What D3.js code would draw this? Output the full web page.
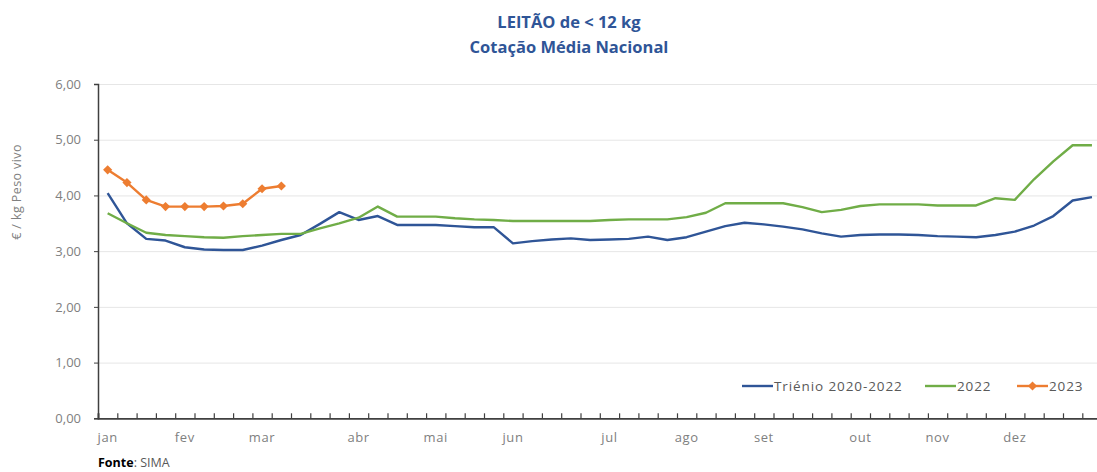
<!DOCTYPE html>
<html>
<head>
<meta charset="utf-8">
<script src="https://cdn.jsdelivr.net/npm/d3@7"></script>
<style>
  body { margin: 0; background: #fff; }
  svg { display: block; font-family: "Open Sans", sans-serif; }
</style>
</head>
<body>
<svg width="1097" height="472"></svg>
<script>
// semanas 1..52
var weeks = d3.range(1, 53);

var trienio = [4.04, 3.50, 3.22, 3.19, 3.07, 3.03, 3.02, 3.02, 3.10, 3.20,
  3.29, 3.49, 3.70, 3.56, 3.63, 3.47, 3.47, 3.47, 3.45, 3.43,
  3.43, 3.14, 3.18, 3.21, 3.23, 3.20, 3.21, 3.22, 3.26, 3.20,
  3.25, 3.35, 3.45, 3.51, 3.48, 3.44, 3.39, 3.32, 3.26, 3.29,
  3.30, 3.30, 3.29, 3.27, 3.26, 3.25, 3.29, 3.35, 3.46, 3.63,
  3.91, 3.97];

var ano2022 = [3.68, 3.50, 3.33, 3.29, 3.27, 3.25, 3.24, 3.27, 3.29, 3.31,
  3.31, 3.41, 3.50, 3.60, 3.80, 3.62, 3.62, 3.62, 3.59, 3.57,
  3.56, 3.54, 3.54, 3.54, 3.54, 3.54, 3.56, 3.57, 3.57, 3.57,
  3.61, 3.69, 3.86, 3.86, 3.86, 3.86, 3.79, 3.70, 3.74, 3.81,
  3.84, 3.84, 3.84, 3.82, 3.82, 3.82, 3.95, 3.92, 4.29, 4.61,
  4.90, 4.90];

var ano2023 = [4.46, 4.23, 3.92, 3.80, 3.80, 3.80, 3.81, 3.85, 4.12, 4.17];

var monthLabels = ["jan", "fev", "mar", "abr", "mai", "jun", "jul", "ago", "set", "out", "nov", "dez"];
var monthWeeks = [1, 5, 9, 14, 18, 22, 27, 31, 35, 40, 44, 48];

var yTicks = [0, 1, 2, 3, 4, 5, 6];

var series = [
  {name: "Triénio 2020-2022", values: trienio, color: "#2f5597", marker: false},
  {name: "2022", values: ano2022, color: "#70ad47", marker: false},
  {name: "2023", values: ano2023, color: "#ed7d31", marker: true}
];

var svg = d3.select("svg"),
    plot = {left: 98, right: 1101.6, top: 84, bottom: 418.3};

var x = d3.scaleBand().domain(weeks).range([plot.left, plot.right]);
var xEdge = d3.scaleLinear().domain([0, weeks.length]).range([plot.left, plot.right]);
var y = d3.scaleLinear().domain([0, 6]).range([plot.bottom, plot.top]);
var fmt = function(d) { return d3.format(".2f")(d).replace(".", ","); };
var diamond = d3.symbol().type(d3.symbolSquare).size(42);

// titulo
var title = svg.append("text")
    .attr("text-anchor", "middle")
    .attr("fill", "#2f5597")
    .style("font-size", "16.5px").style("font-weight", "bold");
title.append("tspan").attr("x", 569).attr("y", 28).text("LEITÃO de < 12 kg");
title.append("tspan").attr("x", 569).attr("y", 53).text("Cotação Média Nacional");

// grelha
svg.append("g")
    .attr("transform", "translate(" + plot.left + ",0)")
    .call(d3.axisLeft(y).tickValues(yTicks).tickSize(-(plot.right - plot.left)).tickFormat(""))
    .call(function(g) {
      g.select(".domain").remove();
      g.selectAll(".tick line").attr("stroke", "#e6e6e6").attr("stroke-width", 1);
    });

// eixo y
svg.append("g")
    .attr("transform", "translate(" + plot.left + ",0)")
    .call(d3.axisLeft(y).tickValues(yTicks).tickSize(4).tickPadding(13).tickFormat(fmt))
    .call(function(g) {
      g.select(".domain").attr("stroke", "#404040").attr("stroke-width", 1.5);
      g.selectAll(".tick line").attr("stroke", "#404040");
      g.selectAll(".tick text").attr("fill", "#808080").style("font-size", "13px")
        .style("font-family", "Open Sans");
    });

svg.append("text")
    .attr("transform", "translate(21,192) rotate(-90)")
    .attr("text-anchor", "middle")
    .attr("fill", "#808080")
    .style("font-size", "12.5px")
    .style("letter-spacing", "0.4px")
    .text("€ / kg Peso vivo");

// eixo x: marcas entre semanas
svg.append("g")
    .attr("transform", "translate(0," + plot.bottom + ")")
    .call(d3.axisBottom(xEdge).tickValues(d3.range(0, weeks.length + 1)).tickSize(-5).tickFormat(""))
    .call(function(g) {
      g.select(".domain").attr("stroke", "#404040").attr("stroke-width", 1.8);
      g.selectAll(".tick line").attr("stroke", "#404040").attr("stroke-width", 1.2);
    });

// meses
svg.append("g")
    .attr("transform", "translate(0," + plot.bottom + ")")
    .call(d3.axisBottom(x).tickValues(monthWeeks).tickSize(0).tickPadding(14)
      .tickFormat(function(d, i) { return monthLabels[i]; }))
    .call(function(g) {
      g.select(".domain").remove();
      g.selectAll(".tick text").attr("fill", "#808080").style("font-size", "13px")
        .style("letter-spacing", "0.6px").style("font-family", "Open Sans");
    });

// linhas
var line = d3.line()
    .x(function(d, i) { return x(weeks[i]) + x.bandwidth() / 2; })
    .y(function(d) { return y(d); });

series.forEach(function(s) {
  svg.append("path")
      .datum(s.values)
      .attr("fill", "none")
      .attr("stroke", s.color)
      .attr("stroke-width", 2.4)
      .attr("stroke-linejoin", "round")
      .attr("d", line);
  if (s.marker) {
    svg.selectAll(null)
        .data(s.values)
        .enter().append("path")
        .attr("transform", function(d, i) {
          return "translate(" + (x(weeks[i]) + x.bandwidth() / 2) + "," + y(d) + ") rotate(45)";
        })
        .attr("d", diamond)
        .attr("fill", s.color);
  }
});

// legenda
var legX = [742, 925, 1017];
var leg = svg.selectAll(".leg").data(series).enter().append("g")
    .attr("class", "leg")
    .attr("transform", function(d, i) { return "translate(" + legX[i] + ",386)"; });
leg.append("line").attr("x1", 0).attr("x2", 31)
    .attr("stroke", function(d) { return d.color; }).attr("stroke-width", 2.4);
leg.filter(function(d) { return d.marker; }).append("path")
    .attr("transform", "translate(15.5,0) rotate(45)")
    .attr("d", diamond)
    .attr("fill", function(d) { return d.color; });
leg.append("text")
    .attr("x", 32).attr("dy", "0.35em")
    .attr("fill", "#595959")
    .style("font-size", "13.5px").style("letter-spacing", "0.9px")
    .text(function(d) { return d.name; });

// fonte
var fonte = svg.append("text").attr("x", 98).attr("y", 467).style("font-size", "12.5px");
fonte.append("tspan").attr("fill", "#000").style("font-weight", "bold").text("Fonte");
fonte.append("tspan").attr("fill", "#595959").text(": SIMA");
</script>
</body>
</html>
